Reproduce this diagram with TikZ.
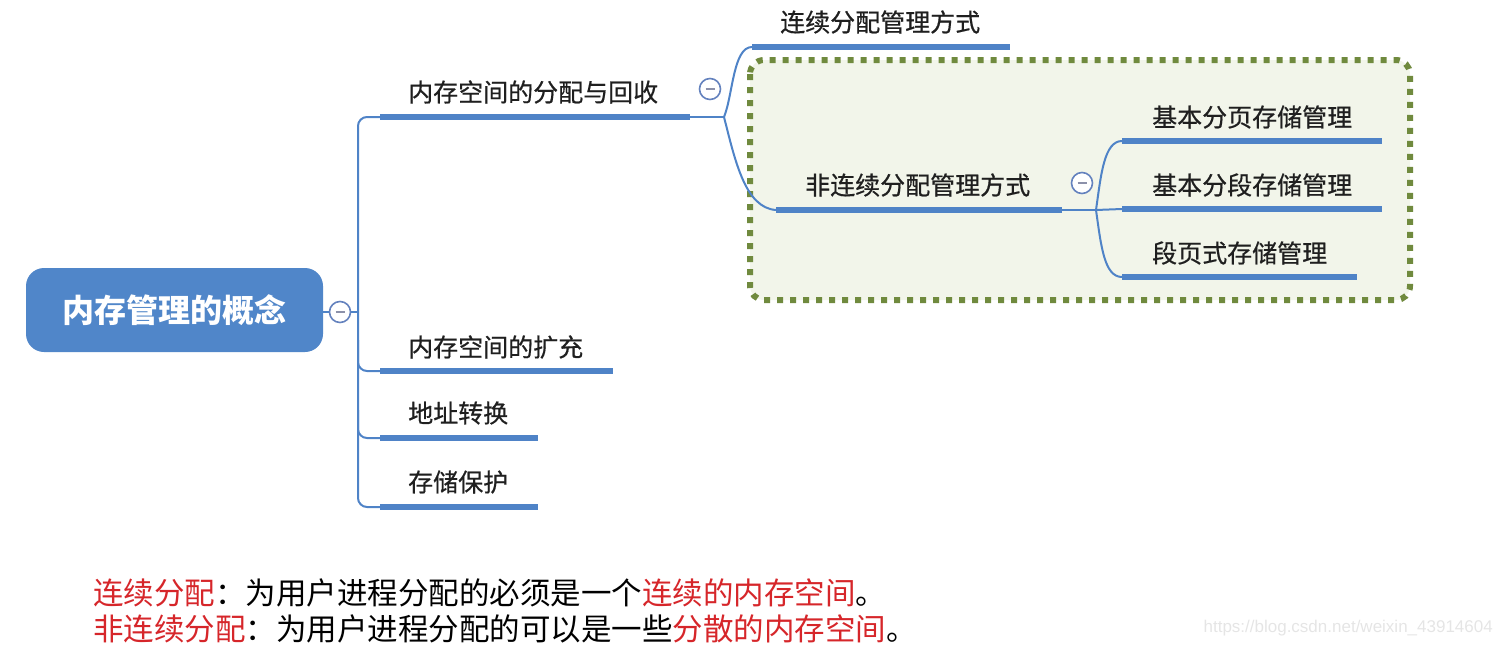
\documentclass[tikz,border=0pt]{standalone}
\usepackage{fontspec}
\setmainfont{Liberation Sans}
\newfontfamily\cjk{Noto Sans CJK SC}
\newfontfamily\cjkm[FakeBold=0.6]{Noto Sans CJK SC}
\newfontfamily\wmfont{Liberation Sans}
\definecolor{mmblue}{RGB}{79,131,199}
\definecolor{rootblue}{RGB}{80,134,201}
\definecolor{ringcol}{RGB}{100,130,190}
\definecolor{minuscol}{RGB}{140,145,170}
\definecolor{boxgreen}{RGB}{112,138,62}
\definecolor{boxfill}{RGB}{242,245,234}
\definecolor{nred}{RGB}{214,38,42}
\begin{document}
\begin{tikzpicture}[x=1pt,y=-1pt,
  lbl/.style={anchor=west, inner sep=0pt, font=\cjkm\fontsize{25}{25}\selectfont, text=black!88},
  ul/.style={line width=6pt, draw=mmblue},
  conn/.style={line width=2pt, draw=mmblue},
  col/.style={circle, draw=ringcol, line width=1.6pt, fill=white, minimum size=21pt, inner sep=0pt,
    path picture={\draw[line width=2pt, draw=minuscol] ([xshift=-4.5pt]path picture bounding box.center) -- ([xshift=4.5pt]path picture bounding box.center);}},
  root/.style={rectangle, rounded corners=18pt, fill=rootblue, minimum width=297pt, minimum height=84pt, inner sep=0pt,
    text=white, font=\cjk\bfseries\fontsize{32}{32}\selectfont},
  note/.style={anchor=west, inner sep=0pt, font=\cjk\fontsize{30.5}{30.5}\selectfont, text=black},
  dotbox/.style={draw=boxgreen, fill=boxfill, line width=6pt, dash pattern=on 6pt off 7pt, rounded corners=14pt}
]
\useasboundingbox (0,0) rectangle (1502,646);

% dotted group box
\draw[dotbox] (750,60) rectangle (1410,300);

% root
\node[root] (root) at (174.5,310) {内存管理的概念};
\node[col] (c0) at (340,312) {};
\coordinate (sp) at (358,312);
\draw[conn] (root.east |- c0) -- (c0);
\draw[conn] (c0) -- (sp);

% first level coordinates
\coordinate (b1s) at (380,117); \coordinate (b1e) at (690,117);
\coordinate (b2s) at (380,371); \coordinate (b2e) at (613,371);
\coordinate (b3s) at (380,438); \coordinate (b3e) at (538,438);
\coordinate (b4s) at (380,507); \coordinate (b4e) at (538,507);

\draw[conn, rounded corners=9pt] (sp) -- (sp |- b1s) -- (b1s);
\draw[conn, rounded corners=9pt] (sp) -- (sp |- b4s) -- (b4s);
\draw[conn, rounded corners=9pt] (358,340) -- (sp |- b2s) -- (b2s);
\draw[conn, rounded corners=9pt] (358,410) -- (sp |- b3s) -- (b3s);

\draw[ul] (b1s) -- (b1e);
\draw[ul] (b2s) -- (b2e);
\draw[ul] (b3s) -- (b3e);
\draw[ul] (b4s) -- (b4e);

\node[lbl] (t1) at (408,92) {内存空间的分配与回收};
\node[lbl] (t2) at (408,347) {内存空间的扩充};
\node[lbl] (t3) at (408,413) {地址转换};
\node[lbl] (t4) at (408,482) {存储保护};

% second level
\node[col] (c1) at (710,89) {};
\coordinate (j1) at (724,117);
\draw[conn] (b1e) -- (j1);
\coordinate (u1s) at (752,47); \coordinate (u1e) at (1010,47);
\coordinate (u2s) at (776,210); \coordinate (u2e) at (1062,210);
\draw[conn] (j1) .. controls (733,95) and (733,47) .. (u1s);
\draw[conn] (j1) .. controls (735,160) and (745,208) .. (u2s);
\draw[ul] (u1s) -- (u1e);
\draw[ul] (u2s) -- (u2e);
\node[lbl] (s1) at (780,22) {连续分配管理方式};
\node[lbl] (s2) at (805,185) {非连续分配管理方式};

% third level
\node[col] (c2) at (1082,183) {};
\coordinate (j2) at (1096,210);
\draw[conn] (u2e) -- (j2);
\coordinate (d1s) at (1122,141); \coordinate (d1e) at (1382,141);
\coordinate (d2s) at (1122,209); \coordinate (d2e) at (1382,209);
\coordinate (d3s) at (1122,277); \coordinate (d3e) at (1357,277);
\draw[conn] (j2) .. controls (1101,175) and (1104,141) .. (d1s);
\draw[conn] (j2) -- (d2s);
\draw[conn] (j2) .. controls (1101,245) and (1104,277) .. (d3s);
\draw[ul] (d1s) -- (d1e);
\draw[ul] (d2s) -- (d2e);
\draw[ul] (d3s) -- (d3e);
\node[lbl] (r1) at (1152,117) {基本分页存储管理};
\node[lbl] (r2) at (1152,185) {基本分段存储管理};
\node[lbl] (r3) at (1152,253) {段页式存储管理};

% notes
\node[note] (n1) at (93,593) {\textcolor{nred}{连续分配}：为用户进程分配的必须是一个\textcolor{nred}{连续的内存空间}。};
\node[note] (n2) at (93,629) {\textcolor{nred}{非连续分配}：为用户进程分配的可以是一些\textcolor{nred}{分散的内存空间}。};

% watermark
\node[anchor=east, inner sep=0pt, font=\wmfont\fontsize{17}{17}\selectfont, text=black!10] (wm) at (1493,628) {https://blog.csdn.net/weixin\_43914604};
\end{tikzpicture}
\end{document}
